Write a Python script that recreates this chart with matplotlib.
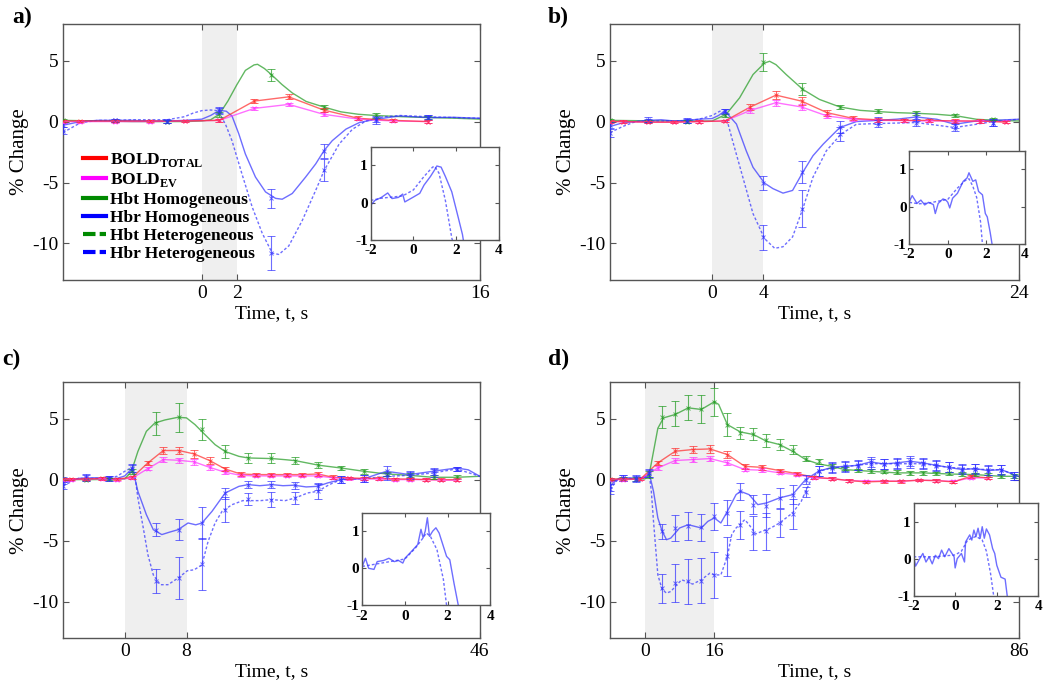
import matplotlib
matplotlib.use("Agg")
import matplotlib.pyplot as plt
from matplotlib.lines import Line2D

plt.rcParams["font.family"] = "Liberation Serif"
plt.rcParams["mathtext.fontset"] = "custom"
plt.rcParams["mathtext.rm"] = "Liberation Serif"
plt.rcParams["mathtext.bf"] = "Liberation Serif:bold"
plt.rcParams["axes.unicode_minus"] = False

# ---------------------------------------------------------------------------
# Data
# ---------------------------------------------------------------------------

# ---- panel a : 2 s stimulus ----
A_STIM, A_END = 2, 16
A_T_HBT = [-8, -6, -4, -2, -1, 0, 0.5, 1.0, 1.5, 2.0, 2.5, 3.0, 3.2, 3.6, 4.0, 4.6, 5.2, 6.0, 7.0, 8.0, 9.0, 10.0, 11.5, 13, 14.5, 16]
A_HBT = [0.1, 0.05, 0.0, 0.0, 0.0, 0.05, 0.15, 0.6, 1.7, 3.0, 4.2, 4.65, 4.7, 4.35, 3.85, 3.05, 2.35, 1.65, 1.2, 0.8, 0.6, 0.5, 0.4, 0.33, 0.28, 0.2]
A_T_HOM = [-8, -7, -6, -5, -4, -3, -2, -1, 0, 0.5, 1.0, 1.4, 1.73, 2.12, 2.5, 3.08, 3.66, 4.24, 4.62, 5.2,
           5.97, 6.55, 7.03, 7.5, 8.29, 9.06, 10.0, 11.4, 13.1, 14.5, 16]
A_HOM = [-0.3, 0.0, 0.1, 0.1, 0.1, 0.05, 0.05, 0.1, 0.2, 0.5, 0.92, 0.85, 0.46, -1.0, -2.66, -4.55, -5.77, -6.3, -6.37, -5.9,
         -4.55, -3.47, -2.38, -1.57, -0.62, -0.08, 0.19, 0.46, 0.33, 0.35, 0.27]
A_T_HET = [-8, -7.5, -7, -6, -5, -4, -3, -2, -1, -0.5, 0, 0.5, 0.9, 1.35, 1.73, 2.3, 2.89, 3.47, 4.05, 4.43,
           5.0, 5.78, 6.55, 7.04, 7.9, 8.67, 9.44, 10.4, 11.4, 13.3, 16]
A_HET = [-0.9, -0.5, -0.1, 0.1, 0.1, 0.15, 0.15, 0.15, 0.4, 0.7, 0.9, 0.95, 0.9, -0.2, -1.57, -4.28, -7.0, -9.16, -10.8, -10.9,
         -10.2, -8.1, -5.64, -4.0, -1.84, -0.62, 0.05, 0.38, 0.5, 0.38, 0.27]
A_EB_T = [-8, -5, -2, 1, 4, 7, 10, 13]
A_EB_HBT = [0.1, 0.05, 0.0, 0.6, 3.85, 1.2, 0.5, 0.33]
A_EB_HBT_ERR = [0.1, 0.1, 0.1, 0.2, 0.5, 0.2, 0.2, 0.1]
A_EB_HOM = [-0.3, 0.1, 0.0, 0.92, -6.3, -2.4, 0.19, 0.33]
A_EB_HOM_ERR = [0.15, 0.15, 0.15, 0.25, 0.8, 0.55, 0.25, 0.2]
A_EB_HET = [-0.75, 0.1, 0.05, 0.9, -10.8, -4.0, 0.1, 0.38]
A_EB_HET_ERR = [0.3, 0.15, 0.15, 0.25, 1.4, 0.9, 0.3, 0.2]
A_T_BOLD = [-8, -7, -5, -3, -1, 1, 3, 5, 7, 9, 11, 13]
A_BOLD_TOT = [0.05, 0.05, 0.05, 0.05, 0.05, 0.1, 1.68, 2.03, 0.95, 0.27, 0.1, 0.0]
A_BOLD_TOT_ERR = [0.1, 0.1, 0.1, 0.1, 0.1, 0.1, 0.15, 0.2, 0.2, 0.15, 0.1, 0.1]
A_BOLD_EV = [0.0, 0.0, 0.0, 0.0, 0.05, 0.1, 1.08, 1.41, 0.6, 0.2, 0.05, 0.0]
A_BOLD_EV_ERR = [0.1, 0.1, 0.1, 0.1, 0.1, 0.1, 0.12, 0.15, 0.15, 0.1, 0.1, 0.1]
A_IN_T_HOM = [-2, -1.8, -1.5, -1.2, -1, -0.7, -0.5, -0.4, 0, 0.3, 0.5, 0.8, 1.0, 1.1, 1.3, 1.5, 1.8, 2.1, 2.3, 2.35]
A_IN_HOM = [-0.07, 0.06, 0.14, 0.26, 0.11, 0.14, 0.23, 0.02, 0.15, 0.25, 0.47, 0.7, 0.88, 0.98, 0.95, 0.7, 0.29, -0.39, -0.85, -1.03]
A_IN_T_HET = [-2, -1.5, -1, -0.5, 0, 0.5, 0.9, 1.0, 1.2, 1.5, 1.8, 1.85]
A_IN_HET = [0.06, 0.12, 0.15, 0.18, 0.34, 0.7, 0.95, 0.97, 0.79, 0.06, -0.94, -1.05]

# ---- panel b : 4 s stimulus ----
B_STIM, B_END = 4, 24
B_T_HBT = [-8, -4, 0, 1.1, 2.15, 3.2, 4.1, 4.5, 5.0, 5.8, 7.1, 8.4, 10.0, 11.6, 13.0, 14.5, 16.0, 17.6, 19.2, 20.7, 22.3, 24]
B_HBT = [0.1, 0.05, 0.05, 0.6, 1.95, 3.86, 4.8, 4.95, 4.67, 3.86, 2.64, 1.82, 1.2, 0.92, 0.82, 0.73, 0.68, 0.6, 0.46, 0.19, 0.1, 0.05]
B_T_HOM = [-8, -7, -6, -5, -4, -3, -2, -1, 0, 0.5, 1.0, 1.9, 2.67, 3.2, 4.1, 4.76, 5.55, 6.3, 7.1, 7.9,
           8.7, 10.0, 11.3, 13, 14.5, 16, 17.6, 19, 20.7, 22, 24]
B_HOM = [-0.4, -0.1, 0.0, 0.1, 0.15, 0.05, 0.1, 0.2, 0.25, 0.5, 0.87, -0.2, -2.4, -3.75, -5.05, -5.5, -5.87, -5.65, -4.16, -2.8,
         -1.85, -0.49, 0.0, 0.1, 0.2, 0.38, 0.19, -0.22, 0.05, 0.1, 0.19]
B_T_HET = [-8, -7, -6, -5, -4, -3, -2, -1, 0, 0.6, 1.0, 1.6, 2.4, 3.2, 4.1, 4.9, 5.55, 6.3, 7.1, 7.9,
           8.95, 10.1, 11.3, 13, 16, 19, 20.7, 22, 24]
B_HET = [-0.9, -0.4, 0.0, 0.05, 0.05, 0.05, 0.05, 0.2, 0.5, 0.85, 0.75, -1.57, -4.56, -7.55, -9.6, -10.4, -10.27, -9.46, -7.15, -4.56,
         -2.39, -1.03, -0.22, -0.16, -0.08, -0.49, -0.22, 0.0, 0.19]
B_EB_T = [-8, -5, -2, 1, 4, 7, 10, 13, 16, 19, 22]
B_EB_HBT = [0.1, 0.05, 0.0, 0.5, 4.9, 2.64, 1.2, 0.85, 0.7, 0.5, 0.2]
B_EB_HBT_ERR = [0.1, 0.1, 0.1, 0.15, 0.75, 0.5, 0.2, 0.15, 0.15, 0.1, 0.1]
B_EB_HOM = [-0.3, 0.15, 0.1, 0.87, -5.05, -4.16, -0.43, 0.1, 0.38, -0.2, -0.1]
B_EB_HOM_ERR = [0.3, 0.2, 0.2, 0.2, 0.6, 0.9, 0.5, 0.3, 0.3, 0.3, 0.3]
B_EB_HET = [-0.9, 0.05, 0.05, 0.85, -9.5, -7.15, -1.03, -0.16, -0.08, -0.49, -0.1]
B_EB_HET_ERR = [0.4, 0.2, 0.2, 0.2, 1.0, 1.5, 0.6, 0.3, 0.3, 0.3, 0.3]
B_T_BOLD = [-8, -7, -5, -3, -1, 1, 3, 5, 7, 9, 11, 13, 15, 17, 19, 21, 23]
B_BOLD_TOT = [0.0, 0.0, -0.05, -0.05, 0.0, 0.05, 1.2, 2.17, 1.68, 0.73, 0.27, 0.14, 0.1, 0.1, 0.05, 0.05, -0.05]
B_BOLD_TOT_ERR = [0.1, 0.1, 0.1, 0.1, 0.1, 0.1, 0.25, 0.35, 0.3, 0.25, 0.15, 0.15, 0.15, 0.15, 0.15, 0.15, 0.1]
B_BOLD_EV = [0.0, 0.0, -0.05, -0.05, 0.0, 0.05, 0.92, 1.55, 1.2, 0.46, 0.19, 0.1, 0.08, 0.05, 0.05, 0.02, 0.0]
B_BOLD_EV_ERR = [0.1, 0.1, 0.1, 0.1, 0.1, 0.1, 0.2, 0.25, 0.25, 0.2, 0.12, 0.1, 0.1, 0.1, 0.1, 0.1, 0.1]
B_IN_T_HOM = [-2, -1.85, -1.6, -1.4, -1.2, -1.0, -0.75, -0.65, -0.5, -0.25, -0.1, 0.0, 0.1, 0.25, 0.5, 0.8, 1.0, 1.1, 1.3,
              1.45, 1.6, 1.8, 1.95, 2.05, 2.2, 2.3]
B_IN_HOM = [0.14, 0.3, 0.09, 0.18, 0.05, 0.12, 0.06, -0.18, 0.09, 0.21, 0.18, 0.12, -0.03, 0.23, 0.36, 0.68, 0.77, 0.91, 0.68,
            0.72, 0.41, 0.32, -0.18, -0.27, -0.68, -1.0]
B_IN_T_HET = [-2, -1.5, -1, -0.5, 0, 0.5, 0.9, 1.1, 1.3, 1.5, 1.7, 1.8]
B_IN_HET = [0.12, 0.08, 0.1, 0.15, 0.2, 0.5, 0.7, 0.75, 0.55, 0.25, -0.4, -1.0]

# ---- panel c : 8 s stimulus ----
C_STIM, C_END = 8, 46
C_T_HBT = [-8, -4, 0, 0.87, 1.7, 2.8, 3.9, 5.2, 6.9, 8.0, 9.1, 10.2, 11.7, 13, 14.8, 16, 19.1, 20.8, 22.1, 25.2, 28, 31, 33.9,
           36.9, 39.9, 43, 46]
C_HBT = [0.0, 0.0, 0.05, 0.68, 2.3, 3.95, 4.63, 4.88, 5.1, 5.05, 4.5, 3.8, 2.86, 2.3, 1.9, 1.77, 1.72, 1.63, 1.55, 1.17, 0.95, 0.68,
         0.46, 0.35, 0.19, 0.19, 0.27]
C_T_HOM = [-8, -6, -4, -2, -1, 0, 1, 1.7, 2.8, 3.7, 4.8, 5.8, 6.9, 8.2, 9.2, 10, 11.3, 13, 14.8, 16,
           17.5, 19.1, 20.5, 21.9, 23.5, 25, 26.3, 28, 31, 33.9, 36.9, 39.9, 43, 44.5, 46]
C_HOM = [-0.3, 0.1, 0.15, 0.1, 0.1, 0.3, 0.95, -0.96, -2.87, -4.1, -4.5, -4.3, -4.1, -3.55, -3.7, -3.55, -2.6, -1.1, -0.55, -0.41,
         -0.5, -0.41, -0.5, -0.46, -0.6, -0.55, -0.27, 0.0, 0.08, 0.68, 0.41, 0.68, 0.95, 0.8, 0.27]
C_T_HET = [-8, -6, -4, -2, -1, 0, 0.8, 1.3, 1.7, 2.4, 3.0, 3.7, 4.6, 5.6, 6.9, 8.1, 9.0, 10.0, 10.8, 11.7,
           12.6, 13.9, 15.3, 17.6, 19.0, 20.8, 22.1, 23.7, 25.0, 26.5, 28, 31, 34, 37, 40, 43, 46]
C_HET = [-0.5, 0.1, 0.1, 0.15, 0.27, 0.68, 0.95, 0.41, -1.5, -3.96, -6.15, -7.8, -8.6, -8.6, -8.06, -7.46, -7.38, -6.97, -5.05, -3.55,
         -2.6, -2.05, -1.72, -1.72, -1.64, -1.72, -1.5, -1.09, -0.96, -0.41, 0.0, 0.08, 0.27, 0.35, 0.55, 0.87, 0.27]
C_EB_T = [-8, -5, -2, 1, 4, 7, 10, 13, 16, 19, 22, 25, 28, 31, 34, 37, 40, 43]
C_EB_HBT = [0.05, 0.0, 0.05, 0.68, 4.6, 5.1, 4.1, 2.3, 1.78, 1.78, 1.55, 1.17, 0.95, 0.68, 0.46, 0.35, 0.2, 0.2]
C_EB_HBT_ERR = [0.1, 0.1, 0.1, 0.2, 0.95, 1.2, 0.9, 0.5, 0.4, 0.4, 0.3, 0.25, 0.2, 0.2, 0.2, 0.15, 0.15, 0.15]
C_EB_HOM = [-0.1, 0.2, 0.1, 0.95, -4.1, -4.1, -3.55, -1.1, -0.41, -0.41, -0.46, -0.55, 0.0, 0.08, 0.68, 0.41, 0.68, 0.87]
C_EB_HOM_ERR = [0.3, 0.25, 0.2, 0.3, 0.55, 0.85, 1.3, 0.45, 0.3, 0.3, 0.3, 0.3, 0.3, 0.3, 0.4, 0.3, 0.3, 0.2]
C_EB_HET = [-0.5, 0.1, 0.1, 0.9, -8.3, -8.06, -6.9, -2.46, -1.58, -1.64, -1.5, -0.96, 0.0, 0.08, 0.27, 0.35, 0.55, 0.87]
C_EB_HET_ERR = [0.3, 0.25, 0.2, 0.3, 0.95, 1.7, 2.1, 1.05, 0.5, 0.6, 0.5, 0.6, 0.3, 0.3, 0.3, 0.3, 0.3, 0.2]
C_T_BOLD = [-8, -7, -5, -3, -1, 1, 3, 5, 7, 9, 11, 13, 15, 17, 19, 21, 23, 25, 27, 29, 31, 33, 35, 37, 39, 41, 43]
C_BOLD_TOT = [0.05, 0.05, 0.05, 0.1, 0.05, 0.19, 1.37, 2.38, 2.38, 2.1, 1.56, 0.87, 0.46, 0.41, 0.41, 0.41, 0.41, 0.46,
              0.19, 0.14, 0.1, 0.1, 0.05, 0.05, 0.0, 0.0, 0.0]
C_BOLD_TOT_ERR = [0.1, 0.1, 0.1, 0.1, 0.1, 0.1, 0.15, 0.3, 0.3, 0.35, 0.25, 0.2, 0.15, 0.15, 0.15, 0.15, 0.15, 0.15,
                  0.15, 0.1, 0.1, 0.1, 0.1, 0.1, 0.1, 0.1, 0.1]
C_BOLD_EV = [0.0, 0.0, 0.05, 0.05, 0.0, 0.14, 0.9, 1.64, 1.58, 1.45, 1.0, 0.6, 0.35, 0.3, 0.3, 0.3, 0.3, 0.3,
             0.14, 0.1, 0.05, 0.05, 0.0, 0.0, 0.0, -0.05, -0.05]
C_BOLD_EV_ERR = [0.1, 0.1, 0.1, 0.1, 0.1, 0.1, 0.12, 0.2, 0.2, 0.25, 0.2, 0.15, 0.12, 0.12, 0.12, 0.12, 0.12, 0.12,
                 0.1, 0.1, 0.1, 0.1, 0.1, 0.1, 0.1, 0.1, 0.1]
C_IN_T_HOM = [-2, -1.85, -1.7, -1.45, -1.3, -1, -0.75, -0.5, -0.3, -0.1, 0, 0.3, 0.6, 0.75, 0.85, 0.95, 1.05, 1.15, 1.3,
              1.45, 1.6, 1.8, 1.95, 2.1, 2.3, 2.5]
C_IN_HOM = [0.05, 0.27, 0.0, -0.03, 0.18, 0.21, 0.27, 0.18, 0.21, 0.14, 0.27, 0.45, 0.64, 1.05, 0.82, 1.0, 1.36, 0.86, 1.0,
            1.09, 0.95, 0.59, 0.32, 0.23, -0.41, -1.0]
C_IN_T_HET = [-2, -1.5, -1, -0.5, 0, 0.5, 0.85, 1.0, 1.2, 1.5, 1.8, 1.95]
C_IN_HET = [0.05, 0.1, 0.15, 0.2, 0.25, 0.55, 0.82, 0.95, 0.85, 0.5, -0.3, -1.0]

# ---- panel d : 16 s stimulus ----
D_STIM, D_END = 16, 86
D_T_HBT = [-8, -4, 0, 1, 2, 3, 4.3, 7, 10, 13, 16, 17, 19, 22, 25, 28, 31, 34, 37, 40, 43, 46, 52, 58, 64, 70, 76, 82, 86]
D_HBT = [0.0, 0.05, 0.05, 0.41, 2.3, 4.2, 5.05, 5.33, 5.87, 5.74, 6.37, 6.15, 4.5, 3.9, 3.69, 3.14, 2.87, 2.32, 1.64, 1.28,
         1.09, 0.82, 0.68, 0.55, 0.55, 0.46, 0.41, 0.27, 0.27]
D_T_HOM = [-8, -6, -4, -2, 0, 1, 2, 3, 4, 5, 6, 8, 10, 13, 14.5, 16, 17.5, 19, 21, 22, 24, 26, 28, 31, 34, 36, 37,
           40, 43, 46, 49, 52, 55, 58, 61, 64, 67, 70, 73, 76, 79, 82, 86]
D_HOM = [-0.5, 0.1, 0.15, 0.1, 0.2, 0.55, -0.96, -3.14, -4.23, -4.92, -4.78, -3.96, -3.69, -3.96, -3.42, -3.14, -3.55, -2.6,
         -1.23, -0.96, -1.23, -2.05, -1.91, -1.5, -1.23, -0.41, 0.0,
         0.68, 1.0, 1.09, 1.17, 1.45, 1.28, 1.37, 1.5, 1.37, 1.17, 1.0, 0.82, 0.9, 0.74, 0.82, 0.27]
D_T_HET = [-8, -6, -4, -2, 0, 1, 1.5, 2, 2.5, 3, 4, 5, 6, 7.5, 8.5, 10, 11, 13, 15, 16, 17.5, 19, 20, 21, 23, 24, 25.5, 27,
           29, 31, 34, 36, 37, 38.5, 40, 43, 46, 52, 58, 64, 70, 76, 82, 86]
D_HET = [-0.8, 0.1, 0.1, 0.1, 0.2, 0.5, -0.96, -3.4, -5.6, -7.8, -9.0, -9.29, -9.15, -8.55, -8.2, -8.4, -8.55, -8.2, -7.65,
         -7.8, -7.8, -6.28, -4.5, -3.96, -3.28, -3.69, -4.45, -4.23, -3.96, -3.55, -2.73, -1.78, -0.96, 0.14, 0.68, 0.95,
         1.05, 1.3, 1.3, 1.3, 1.0, 0.85, 0.8, 0.3]
D_EB_T = [-8, -5, -2, 1, 4, 7, 10, 13, 16, 19, 22, 25, 28, 31, 34, 37, 40, 43, 46, 49, 52, 55, 58, 61, 64, 67, 70, 73,
          76, 79, 82, 85]
D_EB_HBT = [0.0, 0.05, 0.05, 0.41, 5.1, 5.4, 5.9, 5.8, 6.37, 4.5, 3.8, 3.74, 3.2, 2.87, 2.46, 1.72, 1.5, 1.09, 0.9, 0.75,
            0.7, 0.65, 0.6, 0.55, 0.55, 0.5, 0.5, 0.45, 0.42, 0.4, 0.3, 0.27]
D_EB_HBT_ERR = [0.15, 0.15, 0.15, 0.3, 0.9, 1.0, 1.0, 1.15, 1.15, 0.95, 0.5, 0.5, 0.5, 0.45, 0.4, 0.2, 0.2, 0.15, 0.15,
                0.15, 0.15, 0.15, 0.15, 0.15, 0.15, 0.15, 0.15, 0.15, 0.15, 0.15, 0.15, 0.15]
D_EB_HOM = [-0.5, 0.1, 0.1, 0.55, -4.23, -3.96, -3.8, -3.9, -3.0, -2.7, -0.96, -2.05, -2.15, -1.5, -1.23, 0.0, 0.68, 1.0,
            1.09, 1.17, 1.45, 1.28, 1.37, 1.5, 1.37, 1.17, 1.0, 0.82, 0.9, 0.74, 0.82, 0.3]
D_EB_HOM_ERR = [0.4, 0.25, 0.25, 0.3, 0.6, 1.1, 1.15, 1.1, 1.1, 1.0, 0.7, 0.8, 0.95, 0.8, 0.8, 0.4, 0.4, 0.4, 0.4, 0.4,
                0.4, 0.4, 0.4, 0.4, 0.4, 0.4, 0.4, 0.4, 0.4, 0.4, 0.4, 0.3]
D_EB_HET = [-0.8, 0.1, 0.05, 0.5, -8.9, -8.47, -8.33, -8.28, -7.8, -6.28, -3.7, -4.37, -4.23, -3.55, -2.8, -1.0, 0.68,
            0.95, 1.05, 1.15, 1.3, 1.25, 1.3, 1.35, 1.3, 1.1, 1.0, 0.9, 0.85, 0.8, 0.8, 0.3]
D_EB_HET_ERR = [0.4, 0.25, 0.25, 0.3, 1.2, 1.55, 1.85, 1.85, 1.85, 1.6, 1.16, 1.37, 1.5, 1.16, 1.23, 0.4, 0.4, 0.4, 0.4,
                0.4, 0.4, 0.4, 0.4, 0.4, 0.4, 0.4, 0.4, 0.4, 0.4, 0.4, 0.4, 0.3]
D_T_BOLD = [-8, -5, -1, 3, 7, 11, 15, 19, 23, 27, 31, 35, 39, 43, 47, 51, 55, 59, 63, 67, 71, 75, 79]
D_BOLD_TOT = [0.05, 0.05, 0.05, 1.37, 2.32, 2.46, 2.51, 2.05, 1.09, 1.0, 0.74, 0.49, 0.19, 0.08, -0.08, -0.19, -0.14,
              -0.14, -0.05, -0.08, -0.19, 0.27, 0.14]
D_BOLD_TOT_ERR = [0.1, 0.1, 0.1, 0.15, 0.3, 0.3, 0.3, 0.3, 0.2, 0.2, 0.15, 0.15, 0.1, 0.1, 0.1, 0.1, 0.1, 0.1, 0.1, 0.1,
                  0.1, 0.1, 0.1]
D_BOLD_EV = [0.0, 0.0, 0.05, 0.96, 1.56, 1.64, 1.72, 1.37, 0.82, 0.77, 0.55, 0.41, 0.14, 0.08, -0.08, -0.12, -0.12,
             -0.12, -0.05, -0.08, -0.15, 0.14, 0.14]
D_BOLD_EV_ERR = [0.1, 0.1, 0.1, 0.15, 0.2, 0.2, 0.2, 0.2, 0.15, 0.15, 0.12, 0.12, 0.1, 0.1, 0.1, 0.1, 0.1, 0.1, 0.1, 0.1,
                 0.1, 0.1, 0.1]
D_IN_T_HOM = [-2, -1.9, -1.7, -1.55, -1.4, -1.25, -1.1, -0.95, -0.8, -0.65, -0.5, -0.3, -0.2, -0.05, 0.0, 0.1, 0.3, 0.45,
              0.5, 0.7, 0.8, 0.9, 1.0, 1.1, 1.2, 1.3, 1.4, 1.5, 1.65, 1.8, 1.9, 2.0, 2.2, 2.4, 2.5]
D_IN_HOM = [0.09, -0.2, 0.0, 0.14, -0.09, 0.05, -0.14, 0.09, 0.0, 0.23, 0.05, 0.27, 0.18, 0.05, -0.25, 0.0, 0.14, -0.09,
            0.45, 0.64, 0.5, 0.77, 0.59, 0.82, 0.55, 0.86, 0.55, 0.8, 0.64, 0.27, 0.14, -0.18, -0.5, -0.55, -1.0]
D_IN_T_HET = [-2, -1, 0, 0.3, 0.6, 1.0, 1.3, 1.5, 1.7, 1.85]
D_IN_HET = [0.05, 0.05, 0.1, 0.2, 0.5, 0.6, 0.5, 0.2, -0.4, -1.0]

# ---------------------------------------------------------------------------
# Styling
# ---------------------------------------------------------------------------
RED, MAGENTA, GREEN, BLUE = "#ff2a2a", "#ff33ff", "#1f9a1f", "#3030ff"
ALPHA = 0.7
SPINE = "#555555"
SHADE = "#efefef"

PANELS = [
    # label, stim, end, main axes rect, inset rect, data
    ("a)", A_STIM, A_END, [0.060, 0.593, 0.397, 0.372], [0.353, 0.651, 0.122, 0.136],
     A_T_HBT, A_HBT, A_T_HOM, A_HOM, A_T_HET, A_HET,
     A_EB_T, A_EB_HBT, A_EB_HBT_ERR, A_EB_HOM, A_EB_HOM_ERR, A_EB_HET, A_EB_HET_ERR,
     A_T_BOLD, A_BOLD_TOT, A_BOLD_TOT_ERR, A_BOLD_EV, A_BOLD_EV_ERR,
     A_IN_T_HOM, A_IN_HOM, A_IN_T_HET, A_IN_HET, (0.012, 0.975), True),
    ("b)", B_STIM, B_END, [0.581, 0.593, 0.389, 0.372], [0.866, 0.645, 0.110, 0.136],
     B_T_HBT, B_HBT, B_T_HOM, B_HOM, B_T_HET, B_HET,
     B_EB_T, B_EB_HBT, B_EB_HBT_ERR, B_EB_HOM, B_EB_HOM_ERR, B_EB_HET, B_EB_HET_ERR,
     B_T_BOLD, B_BOLD_TOT, B_BOLD_TOT_ERR, B_BOLD_EV, B_BOLD_EV_ERR,
     B_IN_T_HOM, B_IN_HOM, B_IN_T_HET, B_IN_HET, (0.522, 0.975), False),
    ("c)", C_STIM, C_END, [0.060, 0.072, 0.397, 0.373], [0.345, 0.120, 0.122, 0.135],
     C_T_HBT, C_HBT, C_T_HOM, C_HOM, C_T_HET, C_HET,
     C_EB_T, C_EB_HBT, C_EB_HBT_ERR, C_EB_HOM, C_EB_HOM_ERR, C_EB_HET, C_EB_HET_ERR,
     C_T_BOLD, C_BOLD_TOT, C_BOLD_TOT_ERR, C_BOLD_EV, C_BOLD_EV_ERR,
     C_IN_T_HOM, C_IN_HOM, C_IN_T_HET, C_IN_HET, (0.002, 0.478), False),
    ("d)", D_STIM, D_END, [0.581, 0.072, 0.389, 0.373], [0.870, 0.134, 0.119, 0.135],
     D_T_HBT, D_HBT, D_T_HOM, D_HOM, D_T_HET, D_HET,
     D_EB_T, D_EB_HBT, D_EB_HBT_ERR, D_EB_HOM, D_EB_HOM_ERR, D_EB_HET, D_EB_HET_ERR,
     D_T_BOLD, D_BOLD_TOT, D_BOLD_TOT_ERR, D_BOLD_EV, D_BOLD_EV_ERR,
     D_IN_T_HOM, D_IN_HOM, D_IN_T_HET, D_IN_HET, (0.522, 0.478), False),
]


def style_box(ax):
    for sp in ax.spines.values():
        sp.set_color(SPINE)
        sp.set_linewidth(1.0)
    ax.tick_params(direction="in", top=True, right=True, length=4, color=SPINE, width=0.8)


def eb(ax, t, v, e, color):
    ax.errorbar(t, v, yerr=e, fmt="x", ms=3, mew=0.7, capsize=3, capthick=0.8, elinewidth=0.8,
                color=color, alpha=ALPHA, zorder=3)


fig = plt.figure(figsize=(10.5, 6.88), dpi=100)

for (label, stim, end, rect, in_rect,
     t_hbt, hbt, t_hom, hom, t_het, het,
     eb_t, eb_hbt, eb_hbt_e, eb_hom, eb_hom_e, eb_het, eb_het_e,
     t_bold, bold_tot, bold_tot_e, bold_ev, bold_ev_e,
     in_t_hom, in_hom, in_t_het, in_het, lab_pos, with_legend) in PANELS:

    ax = fig.add_axes(rect)
    ax.axvspan(0, stim, color=SHADE, zorder=0, lw=0)

    # haemoglobin curves (Hbt heterogeneous lies on top of Hbt homogeneous)
    ax.plot(t_hbt, hbt, color=GREEN, lw=1.0, alpha=ALPHA, zorder=2)
    ax.plot(t_hom, hom, color=BLUE, lw=1.0, alpha=ALPHA, zorder=2)
    ax.plot(t_het, het, color=BLUE, lw=1.0, alpha=ALPHA, ls=(0, (2, 1.5)), zorder=2)
    eb(ax, eb_t, eb_hbt, eb_hbt_e, GREEN)
    eb(ax, eb_t, eb_hom, eb_hom_e, BLUE)
    eb(ax, eb_t, eb_het, eb_het_e, BLUE)

    # BOLD curves
    ax.plot(t_bold, bold_ev, color=MAGENTA, lw=1.0, alpha=ALPHA, zorder=2)
    eb(ax, t_bold, bold_ev, bold_ev_e, MAGENTA)
    ax.plot(t_bold, bold_tot, color=RED, lw=1.0, alpha=ALPHA, zorder=2)
    eb(ax, t_bold, bold_tot, bold_tot_e, RED)

    ax.set_xlim(-8, end)
    ax.set_ylim(-13, 8)
    ax.set_xticks([0, stim, end])
    ax.set_yticks([-10, -5, 0, 5])
    ax.tick_params(labelsize=14)
    style_box(ax)
    ax.set_xlabel("Time, t, s", fontsize=14, labelpad=2)
    ax.set_ylabel("% Change", fontsize=15, labelpad=2)
    fig.text(lab_pos[0], lab_pos[1], label, fontsize=17, fontweight="bold", va="center", ha="left")

    if with_legend:
        handles = [Line2D([], [], color="#ff0000", lw=3),
                   Line2D([], [], color="#ff00ff", lw=3),
                   Line2D([], [], color="#008a00", lw=3),
                   Line2D([], [], color="#0000ff", lw=3),
                   Line2D([], [], color="#008a00", lw=3, ls=(0, (3, 1))),
                   Line2D([], [], color="#0000ff", lw=3, ls=(0, (3, 1)))]
        labels = [r"BOLD$_{\mathbf{TOTAL}}$", r"BOLD$_{\mathbf{EV}}$", "Hbt Homogeneous",
                  "Hbr Homogeneous", "Hbt Heterogeneous", "Hbr Heterogeneous"]
        ax.legend(handles, labels, loc="upper left", bbox_to_anchor=(0.02, 0.55), frameon=False,
                  prop={"family": "Liberation Serif", "weight": "bold", "size": 12.5},
                  handlelength=1.3, handletextpad=0.25, labelspacing=0.12, borderpad=0.2)

    # inset: early dip of Hbr
    ins = fig.add_axes(in_rect)
    ins.set_facecolor("white")
    ins.plot(in_t_hom, in_hom, color=BLUE, lw=1.0, alpha=ALPHA)
    ins.plot(in_t_het, in_het, color=BLUE, lw=1.0, alpha=ALPHA, ls=(0, (2, 1.5)))
    ins.set_xlim(-2, 4)
    ins.set_ylim(-1, 1.5)
    ins.set_xticks([-2, 0, 2, 4])
    ins.set_yticks([-1, 0, 1])
    style_box(ins)
    ins.tick_params(length=3, labelsize=11, pad=2)
    ins.tick_params(axis="x", pad=3)
    for tl in ins.get_xticklabels() + ins.get_yticklabels():
        tl.set_fontweight("bold")

fig.savefig("out.png", dpi=100)
